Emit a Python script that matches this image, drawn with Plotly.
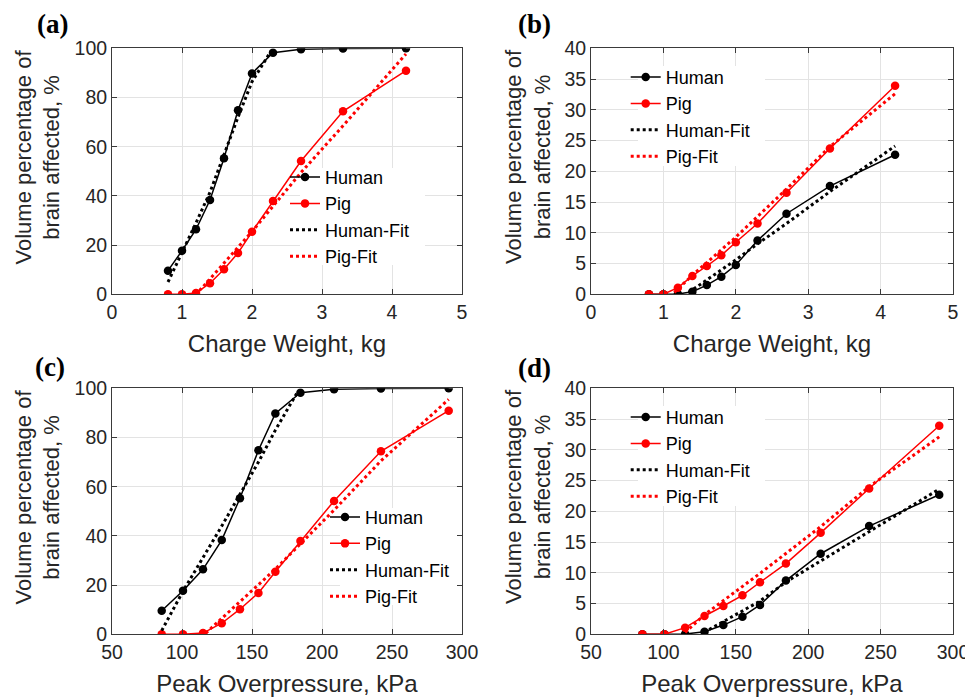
import plotly.graph_objects as go

# ---------------- data ----------------
charge_kg = [0.8, 1.0, 1.2, 1.4, 1.6, 1.8, 2.0, 2.3, 2.7, 3.3, 4.2]
pressure_kpa = [85.5, 100.7, 115.0, 128.4, 141.4, 154.6, 166.7, 184.6, 208.6, 242.1, 290.5]

# panels (a)/(c)
human_ac = [9.6, 17.7, 26.4, 38.3, 55.3, 74.8, 89.8, 98.2, 99.6, 99.9, 100.0]
pig_ac = [0.0, 0.0, 0.5, 4.5, 10.2, 16.8, 25.4, 37.9, 54.2, 74.4, 90.9]
# panels (b)/(d)
human_bd = [0.0, 0.0, 0.05, 0.43, 1.5, 2.87, 4.77, 8.73, 13.1, 17.6, 22.7]
pig_bd = [0.0, 0.0, 1.08, 2.98, 4.6, 6.34, 8.46, 11.5, 16.5, 23.7, 33.9]

# fitted curves
hfit_a_x = [0.8, 1.0, 1.2, 1.4, 1.6, 1.8, 2.0, 2.27]
hfit_a_y = [5.0, 16.7, 29.0, 41.5, 57.0, 72.0, 86.4, 98.8]
pfit_a_x = [1.25, 2.0, 2.7, 3.3, 4.2]
pfit_a_y = [1.5, 25.5, 49.5, 68.5, 97.7]

hfit_b_x = [1.35, 1.6, 2.0, 2.3, 2.7, 3.3, 4.2]
hfit_b_y = [0.3, 2.3, 5.6, 8.2, 11.5, 16.7, 24.1]
pfit_b_x = [1.15, 1.4, 2.0, 2.7, 3.3, 4.2]
pfit_b_y = [0.3, 3.1, 9.3, 17.1, 24.0, 32.6]

hfit_c_x = [85.5, 100.7, 128.4, 154.6, 166.7, 182.0]
hfit_c_y = [1.5, 17.5, 44.0, 70.0, 83.0, 98.0]
pfit_c_x = [117.0, 166.7, 208.6, 242.1, 290.5]
pfit_c_y = [0.5, 26.5, 50.5, 70.5, 95.5]

hfit_d_x = [128.0, 166.7, 184.6, 208.6, 242.1, 290.5]
hfit_d_y = [0.3, 5.4, 8.5, 11.9, 16.7, 23.6]
pfit_d_x = [115.0, 128.4, 166.7, 208.6, 242.1, 290.5]
pfit_d_y = [0.3, 3.2, 9.9, 17.5, 24.0, 32.1]

series_names = ["Human", "Pig", "Human-Fit", "Pig-Fit"]
panel_labels = ["(a)", "(b)", "(c)", "(d)"]
x_titles = ["Charge Weight, kg", "Charge Weight, kg", "Peak Overpressure, kPa", "Peak Overpressure, kPa"]
y_title = "Volume percentage of<br>brain affected, %"

# ---------------- figure ----------------
W, H = 973, 700
OFF = 8  # page body margin of the browser


def px_x(x):
    return (x - OFF) / W


def px_y(y):
    return 1 - (y - OFF) / H


fig = go.Figure()
FONT = "Liberation Sans, Arial, sans-serif"
panels = [
    (charge_kg, human_ac, pig_ac, hfit_a_x, hfit_a_y, pfit_a_x, pfit_a_y),
    (charge_kg, human_bd, pig_bd, hfit_b_x, hfit_b_y, pfit_b_x, pfit_b_y),
    (pressure_kpa, human_ac, pig_ac, hfit_c_x, hfit_c_y, pfit_c_x, pfit_c_y),
    (pressure_kpa, human_bd, pig_bd, hfit_d_x, hfit_d_y, pfit_d_x, pfit_d_y),
]
for i, (xx, hy, py, hfx, hfy, pfx, pfy) in enumerate(panels):
    n = "" if i == 0 else str(i + 1)
    leg = "legend" if i == 0 else "legend" + str(i + 1)
    common = dict(xaxis="x" + n, yaxis="y" + n, legend=leg)
    fig.add_trace(go.Scatter(x=xx, y=hy, name=series_names[0], mode="lines+markers",
                             line=dict(color="black", width=1.5),
                             marker=dict(color="black", size=8.5), **common))
    fig.add_trace(go.Scatter(x=xx, y=py, name=series_names[1], mode="lines+markers",
                             line=dict(color="red", width=1.5),
                             marker=dict(color="red", size=8.5), **common))
    fig.add_trace(go.Scatter(x=hfx, y=hfy, name=series_names[2], mode="lines",
                             line=dict(color="black", width=3, dash="dot"), **common))
    fig.add_trace(go.Scatter(x=pfx, y=pfy, name=series_names[3], mode="lines",
                             line=dict(color="red", width=3, dash="dot"), **common))

# axes boxes in screen pixels (left, right, top, bottom)
boxes = [(112, 462, 48.3, 294.3), (591, 953, 48.3, 294.3),
         (112, 462, 388.3, 634.3), (591, 953, 388.3, 634.3)]
xranges = [[0, 5], [0, 5], [50, 300], [50, 300]]
xdt = [1, 1, 50, 50]
yranges = [[0, 100], [0, 40], [0, 100], [0, 40]]
ydt = [20, 5, 20, 5]

axis_style = dict(showgrid=True, gridcolor="#e3e3e3", gridwidth=1, showline=True,
                  linecolor="#3a3a3a", linewidth=1, mirror="ticks", ticks="inside",
                  ticklen=5, tickcolor="#3a3a3a", zeroline=False,
                  tickfont=dict(family=FONT, size=19.5, color="#262626"),
                  automargin=False)
layout = {}
for i in range(4):
    n = "" if i == 0 else str(i + 1)
    l, r, t, b = boxes[i]
    layout["xaxis" + n] = dict(domain=[px_x(l), px_x(r)], range=xranges[i], dtick=xdt[i],
                               anchor="y" + n,
                               title=dict(text=x_titles[i], standoff=13,
                                          font=dict(family=FONT, size=24, color="#262626")),
                               **axis_style)
    layout["yaxis" + n] = dict(domain=[px_y(b), px_y(t)], range=yranges[i], dtick=ydt[i],
                               anchor="x" + n, **axis_style)


def px_to_data(i, px, py):
    l, r, t, b = boxes[i]
    x0, x1 = xranges[i]
    y0, y1 = yranges[i]
    return (x0 + (px - l) / (r - l) * (x1 - x0), y0 + (b - py) / (b - t) * (y1 - y0))


# legend placement and white legend panels (mask grid only, drawn under the data)
leg_pos = [(277 / W, 0.7846), (617.7 / W, 0.9274), (317 / W, 0.2989), (617.7 / W, 0.4417)]
leg_boxes_px = [(300, 425, 168, 265), (638, 765, 66, 166), (340, 461, 508, 605), (638, 765, 406, 506)]
shapes = []
for i, (lx, ly) in enumerate(leg_pos):
    key = "legend" if i == 0 else "legend" + str(i + 1)
    layout[key] = dict(x=lx, y=ly, xanchor="left", yanchor="top",
                       bgcolor="rgba(255,255,255,0)",
                       borderwidth=0, font=dict(family=FONT, size=18, color="black"),
                       itemwidth=30, tracegroupgap=0)
    n = "" if i == 0 else str(i + 1)
    bx0, bx1, by0, by1 = leg_boxes_px[i]
    dx0, dy0 = px_to_data(i, bx0, by1)
    dx1, dy1 = px_to_data(i, bx1, by0)
    shapes.append(dict(type="rect", xref="x" + n, yref="y" + n, x0=dx0, x1=dx1, y0=dy0, y1=dy1,
                       fillcolor="white", line=dict(width=0), layer="between"))

annotations = []
label_pos = [(52, 24), (534, 24), (50, 367), (534, 368)]
for lab, (lx, ly) in zip(panel_labels, label_pos):
    annotations.append(dict(text="<b>" + lab + "</b>", x=px_x(lx), y=px_y(ly),
                            xref="paper", yref="paper", showarrow=False,
                            xanchor="center", yanchor="middle",
                            font=dict(family="Liberation Serif, Times New Roman, serif",
                                      size=27, color="black")))
ytitle_pos = [(37.5, 157), (528, 157), (37.5, 497), (528, 497)]
for (tx, ty) in ytitle_pos:
    annotations.append(dict(text=y_title, x=px_x(tx), y=px_y(ty), xref="paper", yref="paper",
                            showarrow=False, textangle=-90, xanchor="center", yanchor="middle",
                            font=dict(family=FONT, size=22, color="#262626")))

fig.update_layout(width=W, height=H, margin=dict(l=0, r=0, t=0, b=0),
                  paper_bgcolor="white", plot_bgcolor="white", showlegend=True,
                  annotations=annotations, shapes=shapes, **layout)

fig.write_html("out.html")
